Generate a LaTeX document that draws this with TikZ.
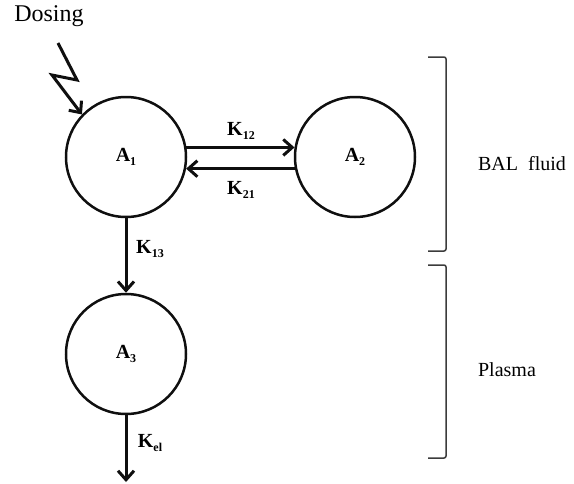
\documentclass[tikz,border=0pt]{standalone}
\usepackage{fontspec}
\setmainfont{Liberation Serif}
\usetikzlibrary{arrows.meta}
\usepackage{xcolor}
\definecolor{ink}{RGB}{15,15,15}
\definecolor{brace}{RGB}{60,60,60}
\newcommand{\ksub}[2]{% letter index
  \textbf{#1}\raisebox{-0.5ex}{\fontsize{12}{13}\selectfont\textbf{#2}}%
}

\begin{document}
\begin{tikzpicture}[x=1pt,y=-1pt,
  comp/.style={circle,draw=ink,line width=2.5pt,minimum size=120pt,inner sep=0pt,
    font=\fontsize{20}{22}\selectfont},
  flow/.style={draw=ink,line width=3pt,-{Straight Barb[length=9pt,width=16pt]}},
  klab/.style={font=\fontsize{20}{22}\selectfont,inner sep=0pt},
  region/.style={font=\fontsize{20}{22}\selectfont,inner sep=0pt},
  bracket/.style={draw=brace,line width=1.5pt,rounded corners=2pt}]
  \useasboundingbox (0,0) rectangle (574,483);
  % compartments
  \node[comp] (A1) at (126,157){\ksub{A}{1}};
  \node[comp] (A2) at (355,157){\ksub{A}{2}};
  \node[comp] (A3) at (126,354){\ksub{A}{3}};
  % transfers
  \draw[flow] (A1.9) -- (A2.171);
  \draw[flow] (A2.191) -- (A1.-11);
  \draw[flow] (A1.south) -- (A3.north);
  \coordinate (out) at (126,482);
  \draw[flow] (A3.south) -- (out);
  \node[klab] (k12) at (241,131){\ksub{K}{12}};
  \node[klab] (k21) at (241,190){\ksub{K}{21}};
  \node[klab] (k13) at (150,249){\ksub{K}{13}};
  \node[klab] (kel) at (150,443){\ksub{K}{el}};
  % dosing
  \node[font=\fontsize{24}{26}\selectfont,inner sep=0pt] (dose) at (49,16){Dosing};
  \coordinate (d0) at (58,43);
  \draw[flow,line join=miter] (d0) -- (77,80) -- (52,75) -- (A1.136);
  % regions
  \foreach \ya/\yb in {57/251,265/458}{
    \draw[bracket] (428,\ya) -- (446,\ya) -- (446,\yb) -- (428,\yb);
  }
  \node[region] (bal) at (522,164){BAL\ \ fluid};
  \node[region] (plasma) at (507,370){Plasma};
\end{tikzpicture}
\end{document}
